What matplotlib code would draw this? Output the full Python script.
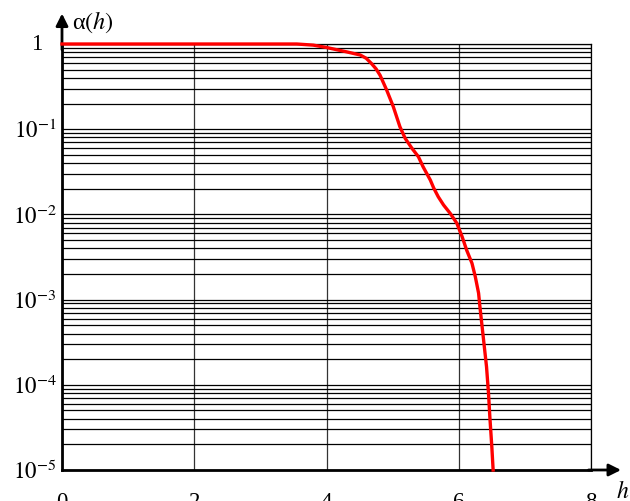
import matplotlib
matplotlib.use("Agg")
import matplotlib.pyplot as plt
import matplotlib.transforms as mtransforms
from matplotlib.ticker import LogLocator, FixedLocator, NullFormatter

plt.rcParams['font.family'] = ['Liberation Serif', 'DejaVu Serif']
plt.rcParams['mathtext.fontset'] = 'stix'

# data
h_vals = [0, 3.55, 3.80, 4.0, 4.30, 4.51, 4.60, 4.68, 4.75, 4.81, 4.91, 5.01,
          5.11, 5.19, 5.29, 5.39, 5.46, 5.57, 5.62, 5.69, 5.77, 5.87, 5.97,
          6.05, 6.12, 6.20, 6.25, 6.30, 6.32, 6.37, 6.42, 6.45, 6.47, 6.50, 6.52]
alpha_vals = [1, 1, 0.97, 0.91, 0.81, 0.743, 0.68, 0.59, 0.51, 0.43, 0.288,
              0.184, 0.107, 0.078, 0.060, 0.0475, 0.0363, 0.0253, 0.0205,
              0.0161, 0.0129, 0.0103, 0.0079, 0.0055, 0.0038, 0.00267, 0.00186,
              0.00119, 0.000826, 0.000367, 0.000163, 0.0000794, 0.0000423,
              0.0000188, 0.00001]
x_ticks = [0, 2, 4, 6, 8]
y_ticks = [1e-5, 1e-4, 1e-3, 1e-2, 1e-1, 1]
y_tick_labels = [r'$10^{-5}$', r'$10^{-4}$', r'$10^{-3}$', r'$10^{-2}$', r'$10^{-1}$', '1']

fig = plt.figure(figsize=(6.3, 5.01), dpi=100)
ax = fig.add_axes([62/630, 1-470/501, (591-62)/630, (470-44)/501])
ax.set_yscale('log')
ax.set_xlim(0, 8)
ax.set_ylim(1e-5, 1)

ax.xaxis.set_major_locator(FixedLocator(x_ticks))
ax.set_xticklabels([str(t) for t in x_ticks])
ax.yaxis.set_major_locator(FixedLocator(y_ticks))
# the top label "1" sits further left in the reference; drawn separately below
ax.set_yticklabels(y_tick_labels[:-1] + [''])
ax.yaxis.set_minor_locator(LogLocator(base=10, subs=range(1, 10), numticks=100))
ax.yaxis.set_minor_formatter(NullFormatter())
ax.tick_params(which='both', length=0, labelsize=16.5)
ax.tick_params(axis='x', pad=16)
ax.tick_params(axis='y', pad=4)

trans = mtransforms.blended_transform_factory(ax.transAxes, ax.transData)
ax.text(-20/529, y_ticks[-1], y_tick_labels[-1], transform=trans, ha='right',
        va='center', fontsize=16.5)

ax.grid(True, which='both', axis='y', color='black', lw=0.9)
ax.grid(True, which='major', axis='x', color='#333333', lw=0.9)

for s in ['top', 'right']:
    ax.spines[s].set_linewidth(0.9)
ax.spines['left'].set_linewidth(2)
ax.spines['bottom'].set_linewidth(2)

ax.plot(h_vals, alpha_vals, color='red', lw=2.4, zorder=5, clip_on=False,
        solid_joinstyle='round')

# axis arrows
ax.annotate('', xy=(0, 1.078), xytext=(0, 0.98), xycoords='axes fraction',
            arrowprops=dict(arrowstyle='-|>', color='black', lw=2, mutation_scale=18),
            annotation_clip=False)
ax.annotate('', xy=(1.062, 0), xytext=(0.99, 0), xycoords='axes fraction',
            arrowprops=dict(arrowstyle='-|>', color='black', lw=2, mutation_scale=18),
            annotation_clip=False)

fig.text(72/630, 1-22/501, r'α$(h)$', fontsize=17.5, va='center', ha='left')
fig.text(616/630, 1-492/501, r'$h$', fontsize=17, va='center', ha='left')

fig.savefig('out.png', dpi=100)
